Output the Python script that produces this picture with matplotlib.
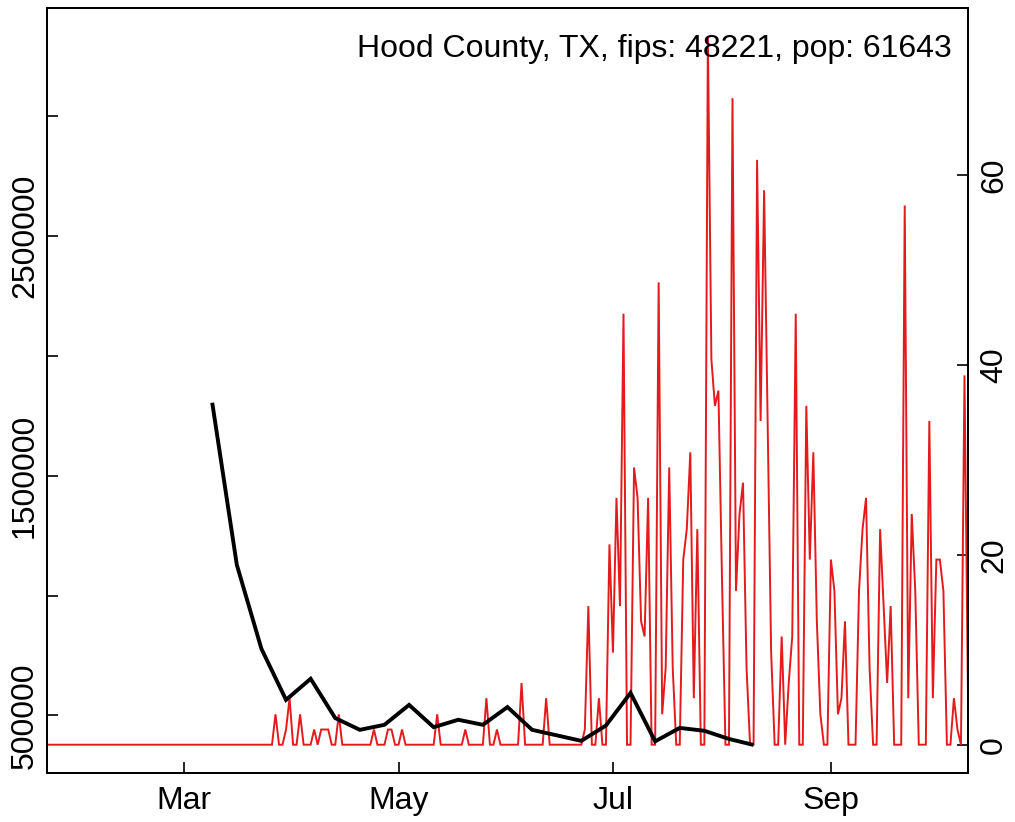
import matplotlib
matplotlib.use("Agg")
import matplotlib.pyplot as plt
import pandas as pd

plt.rcParams['font.family'] = ['Liberation Sans', 'DejaVu Sans']

# ---------------- data ----------------
title_text = "Hood County, TX, fips: 48221, pop: 61643"

# weekly series (left axis), starting 2020-03-09
black_start = "2020-03-09"
black_values = [1804000, 1128000, 778000, 565000, 653000, 489000, 440000, 461000,
                544000, 451000, 482000, 461000, 535000, 440000, 417000, 394000,
                458000, 594000, 392000, 448000, 436000, 402000, 377000]

# daily series (right axis), starting 2020-01-22
red_start = "2020-01-22"
red_values = [
    0, 0, 0, 0, 0, 0, 0, 0, 0, 0, 0, 0, 0, 0, 0, 0, 0, 0, 0, 0,
    0, 0, 0, 0, 0, 0, 0, 0, 0, 0, 0, 0, 0, 0, 0, 0, 0, 0, 0, 0,
    0, 0, 0, 0, 0, 0, 0, 0, 0, 0, 0, 0, 0, 0, 0, 0, 0, 0, 0, 0,
    0, 0, 0, 0, 0, 3.2, 0, 0, 1.6, 4.9, 0, 0, 3.2, 0, 0, 0, 1.6, 0, 1.6, 1.6,
    1.6, 0, 0, 3.2, 0, 0, 0, 0, 0, 0, 0, 0, 0, 1.6, 0, 0, 0, 1.6, 1.6, 0,
    0, 1.6, 0, 0, 0, 0, 0, 0, 0, 0, 0, 3.2, 0, 0, 0, 0, 0, 0, 0, 1.6,
    0, 0, 0, 0, 0, 4.9, 0, 0, 1.6, 0, 0, 0, 0, 0, 0, 6.5, 0, 0, 0, 0,
    0, 0, 4.9, 0, 0, 0, 0, 0, 0, 0, 0, 0, 0, 1.6, 14.6, 0, 0, 4.9, 0, 0,
    21.1, 9.7, 26.0, 14.6, 45.4, 0, 0, 29.2, 26.0, 13.0, 11.4, 26.0, 0, 0, 48.7, 3.2, 8.1, 29.2, 8.1, 0,
    0, 19.5, 22.7, 30.8, 4.9, 22.7, 0, 0, 74.6, 40.6, 35.7, 37.3, 17.8, 0, 0, 68.1, 16.2, 24.3, 27.6, 8.1,
    0, 0, 61.6, 34.1, 58.4, 34.1, 9.7, 0, 0, 11.4, 0, 6.5, 11.4, 45.4, 0, 0, 35.7, 19.5, 30.8, 13.0,
    3.2, 0, 0, 19.5, 16.2, 3.2, 4.9, 13.0, 0, 0, 0, 16.2, 22.7, 26.0, 8.1, 0, 0, 22.7, 14.6, 6.5,
    14.6, 0, 0, 0, 56.8, 4.9, 24.3, 16.2, 0, 0, 0, 34.1, 4.9, 19.5, 19.5, 16.2, 0, 0, 4.9, 1.6,
    0, 38.9, 4.9,
]

x_tick_dates = ["2020-03-01", "2020-05-01", "2020-07-01", "2020-09-01"]
x_tick_labels = ["Mar", "May", "Jul", "Sep"]
left_ticks = [500000, 1000000, 1500000, 2000000, 2500000, 3000000]
left_tick_labels = ["500000", "", "1500000", "", "2500000", ""]
right_ticks = [0, 20, 40, 60]
right_tick_labels = ["0", "20", "40", "60"]

black_dates = pd.date_range(black_start, periods=len(black_values), freq="7D")
red_dates = pd.date_range(red_start, periods=len(red_values), freq="D")

# ---------------- figure ----------------
W, H, DPI = 1015, 822, 100
fig = plt.figure(figsize=(W / DPI, H / DPI), dpi=DPI)
left, right, top, bottom = 47, 968, 8, 773
ax = fig.add_axes([left / W, 1 - bottom / H, (right - left) / W, (bottom - top) / H])
ax2 = ax.twinx()

FS = 23
ax.plot(black_dates, black_values, color="black", lw=2.8, solid_joinstyle="miter",
        solid_capstyle="butt", zorder=2)
ax2.plot(red_dates, red_values, color="#E41A1C", lw=1.4, solid_joinstyle="miter", zorder=3)

ax.set_xlim(red_dates[0], red_dates[-1])
ax.set_ylim(260000, 3450000)
ax2.set_ylim(-2.98, 77.6)

ax.set_xticks(pd.to_datetime(x_tick_dates))
ax.set_xticklabels(x_tick_labels)
ax.set_yticks(left_ticks)
ax.set_yticklabels(left_tick_labels, rotation=90, va="center")
ax2.set_yticks(right_ticks)
ax2.set_yticklabels(right_tick_labels, rotation=90, va="center")

for a in (ax, ax2):
    for s in a.spines.values():
        s.set_linewidth(1.4)
ax.tick_params(axis="x", direction="in", length=8, width=1.2, labelsize=FS, pad=9)
ax.tick_params(axis="y", direction="in", length=8, width=1.2, labelsize=FS, pad=5)
ax2.tick_params(axis="y", direction="in", length=8, width=1.2, labelsize=FS, pad=8)
ax.set_zorder(ax2.get_zorder() + 1)
ax.patch.set_visible(False)
ax2.set_zorder(0)

fig.text(952 / W, 1 - 57 / H, title_text, ha="right", va="baseline", fontsize=FS)

fig.savefig("out.png", dpi=DPI)
